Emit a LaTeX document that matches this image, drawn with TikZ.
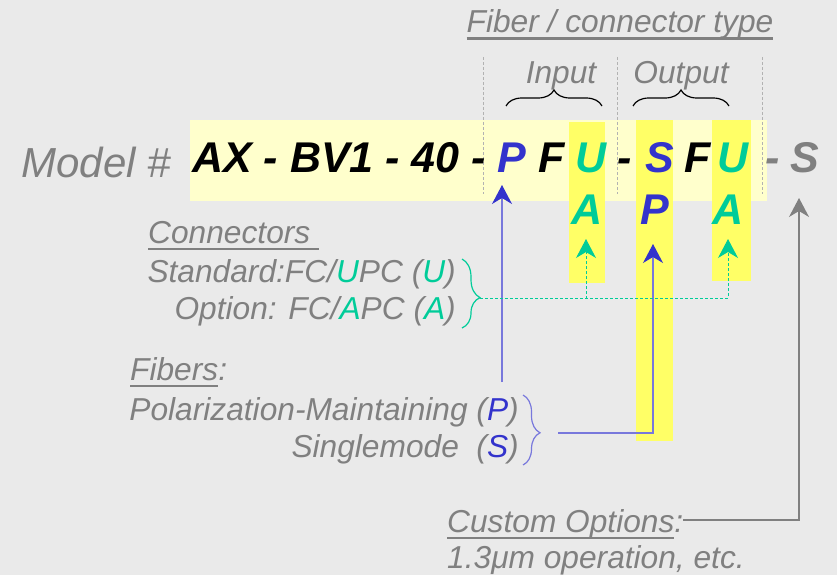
\documentclass[tikz,border=0pt]{standalone}
\usepackage{fontspec}
\setmainfont{Liberation Sans}
\usetikzlibrary{calc,arrows.meta,decorations.pathreplacing}
\definecolor{bggray}{RGB}{234,234,234}
\definecolor{txtgray}{RGB}{128,128,128}
\definecolor{codeblue}{RGB}{51,51,204}
\definecolor{lineblue}{RGB}{120,120,220}
\definecolor{codegreen}{RGB}{0,204,153}
\definecolor{paleyellow}{RGB}{255,255,204}
\definecolor{hiyellow}{RGB}{255,255,102}
\newsavebox{\undlbox}
\newcommand{\undl}[1]{\sbox{\undlbox}{#1}\rlap{\rule[-7pt]{\wd\undlbox}{2.5pt}}\usebox{\undlbox}}

\begin{document}
\begin{tikzpicture}
        [x=1pt, y=-1pt,
          lbl/.style={
            text=txtgray,
            font=\fontsize{31.7}{36}\selectfont\itshape,
            inner sep=0pt},
          code/.style={
            font=\fontsize{43}{48}\selectfont\bfseries\itshape,
            inner sep=0pt,
            anchor=base},
          brc/.style={
            decorate,
            decoration={brace,amplitude=#1},
            line width=1.2pt},
          sep/.style={densely dashed, draw=black!30, line width=0.8pt},
          arrowtip/.style={-{Stealth[length=19pt,width=20pt,inset=6pt,color=#1]}}]
        \fill[bggray] (0,0) rectangle (837,575);
        \useasboundingbox (0,0) rectangle (837,575);

        % highlight bands
        \fill[paleyellow] (190,120) rectangle (767,201);
        \fill[hiyellow] (569,122) rectangle (605,283);
        \fill[hiyellow] (636,120) rectangle (673,441);
        \fill[hiyellow] (712,120) rectangle (751,281);
        \foreach \x in {483,617,762}
          \draw[sep] (\x,57) -- (\x,194);

        % model number
        \node[lbl, font=\fontsize{42}{48}\selectfont\itshape, anchor=base east] (model) at (171,177) {Model \#};
        \node[code, anchor=base west] (prefix) at (192,172) {AX - BV1 - 40 -};
        \node[code, codeblue] (inP) at (512,172) {P};
        \node[code] (inF) at (552,172) {F};
        \node[code, codegreen] (inU) at (591,172) {U};
        \node[code] (dashA) at (625,172) {-};
        \node[code, codeblue] (outS) at (660,172) {S};
        \node[code] (outF) at (698,172) {F};
        \node[code, codegreen] (outU) at (733,172) {U};
        \node[code, txtgray] (dashB) at (773,172) {-};
        \node[code, txtgray] (optS) at (805,172) {S};
        \node[code, codegreen] (inA) at (587,224) {A};
        \node[code, codeblue] (outP) at (655,224) {P};
        \node[code, codegreen] (outA) at (728,224) {A};

        % fiber / connector heading
        \node[lbl, anchor=base] (fibtype) at (620,33) {\undl{Fiber / connector type}};
        \node[lbl, anchor=base] (input) at (561,84) {Input};
        \node[lbl, anchor=base] (output) at (681,84) {Output};
        \draw[brc=16pt] (506,106) -- (602,106);
        \draw[brc=16pt] (633,106) -- (729,106);

        % connectors
        \node[lbl, anchor=base west] (conhead) at (148,243) {\undl{Connectors\ }};
        \node[lbl, anchor=base east] (constd) at (456,282) {Standard:FC/\textcolor{codegreen}{U}PC (\textcolor{codegreen}{U})};
        \node[lbl, anchor=base east] (conopt) at (456,319) {Option: FC/\textcolor{codegreen}{A}PC (\textcolor{codegreen}{A})};
        \draw[brc=18pt, codegreen, decoration={aspect=0.56}] (462,259) -- (462,328);

        % fibers
        \node[lbl, anchor=base west] (fibhead) at (130,380) {\undl{Fibers}:};
        \node[lbl, anchor=base east] (fibpm) at (519,420) {Polarization-Maintaining (\textcolor{codeblue}{P})};
        \node[lbl, anchor=base east] (fibsm) at (519,457) {Singlemode\ \ (\textcolor{codeblue}{S})};
        \draw[brc=17pt, lineblue, decoration={aspect=0.54}] (523,395) -- (523,465);

        % custom options
        \node[lbl, anchor=base west] (custom) at (447,532) {\undl{Custom Options}:};
        \node[lbl, anchor=base west] (custext) at (447,568) {1.3μm operation, etc.};

        \coordinate (contip) at (480,298);
        \coordinate (fibtip) at (558,433);
        \coordinate (pmfoot) at (502,382);
        \coordinate (pmtip) at (502,185);
        \coordinate (inAtip) at (586,239);
        \coordinate (outAtip) at (728,239);
        \coordinate (smtip) at (653,244);
        \coordinate (custip) at (799,198);

        % connections
        \draw[lineblue, line width=1.2pt, arrowtip=codeblue] (pmfoot) -- (pmtip);
        \draw[lineblue, line width=1.2pt, arrowtip=codeblue] (fibtip) -| (smtip);
        \draw[codegreen, densely dashed, line width=1pt, arrowtip=codegreen] (contip) -| (inAtip);
        \draw[codegreen, densely dashed, line width=1pt, arrowtip=codegreen] (contip) -| (outAtip);
        \draw[txtgray, line width=1.5pt, arrowtip=txtgray] ([yshift=4pt]custom.east) -| (custip);
      \end{tikzpicture}
\end{document}
